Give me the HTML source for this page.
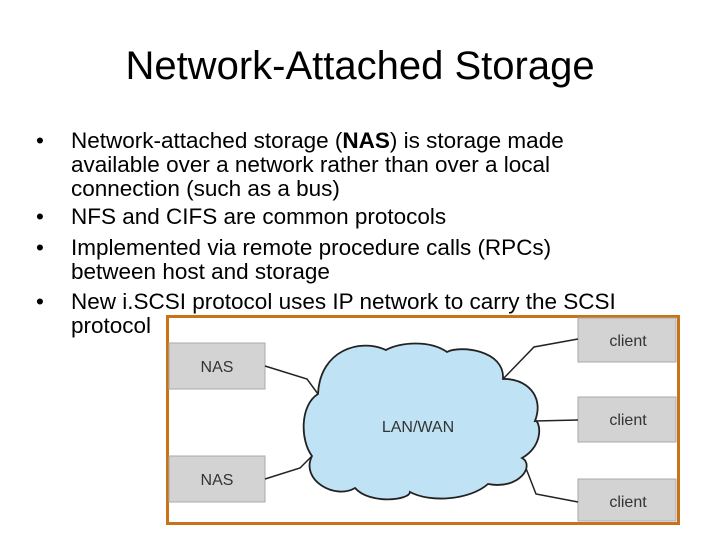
<!DOCTYPE html>
<html><head><style>
body{margin:0;width:720px;height:540px;background:#fff;position:relative;overflow:hidden;font-family:"Liberation Sans",sans-serif;}
h1{position:absolute;top:43px;left:0;width:720px;text-align:center;margin:0;font-weight:normal;font-size:40px;color:#000;line-height:46px;}
.b{position:absolute;left:36px;font-size:22.5px;line-height:24px;color:#000;}
.b span{position:absolute;left:0;}
.t{position:absolute;left:35px;white-space:nowrap;}
</style></head><body>
<h1>Network-Attached Storage</h1>
<div class="b" style="top:129px"><span>•</span><div class="t">Network-attached storage (<b>NAS</b>) is storage made<br>available over a network rather than over a local<br>connection (such as a bus)</div></div>
<div class="b" style="top:205px"><span>•</span><div class="t">NFS and CIFS are common protocols</div></div>
<div class="b" style="top:236px"><span>•</span><div class="t">Implemented via remote procedure calls (RPCs)<br>between host and storage</div></div>
<div class="b" style="top:290px"><span>•</span><div class="t">New i.SCSI protocol uses IP network to carry the SCSI<br>protocol</div></div>
<svg style="position:absolute;left:0;top:0" width="720" height="540">
<rect x="167.5" y="316.5" width="511" height="207" fill="#fff" stroke="#c87318" stroke-width="3"/>
<g fill="#d3d3d3" stroke="#aaa" stroke-width="1">
<rect x="169" y="343" width="96" height="46"/>
<rect x="169" y="456" width="96" height="46"/>
<rect x="578" y="318" width="98" height="44"/>
<rect x="578" y="397" width="98" height="45"/>
<rect x="578" y="479" width="98" height="42"/>
</g>
<g fill="none" stroke="#222" stroke-width="1.5">
<polyline points="265,366 307,379 318,394"/>
<polyline points="265,479 300,468 312,456"/>
<polyline points="578,339 534,347 503,379"/>
<polyline points="578,420 535,421"/>
<polyline points="578,502 536,494 522,458"/>
</g>
<path d="M318,394 C300,405 300,440 312,456 C300,480 335,500 355,488 C370,505 410,500 410,492 C430,503 470,500 488,484 C520,490 535,465 522,458 C545,445 540,420 535,421 C545,395 525,378 503,379 C505,350 460,345 447,352 C430,340 400,342 386,350 C360,338 320,350 318,394 Z" fill="#bfe3f5" stroke="#222" stroke-width="1.8"/>
<g font-family="Liberation Sans,sans-serif" font-size="16" fill="#333" text-anchor="middle">
<text x="217" y="372">NAS</text>
<text x="217" y="485">NAS</text>
<text x="628" y="346">client</text>
<text x="628" y="425">client</text>
<text x="628" y="507">client</text>
<text x="418" y="432">LAN/WAN</text>
</g>
</svg>
</body></html>
